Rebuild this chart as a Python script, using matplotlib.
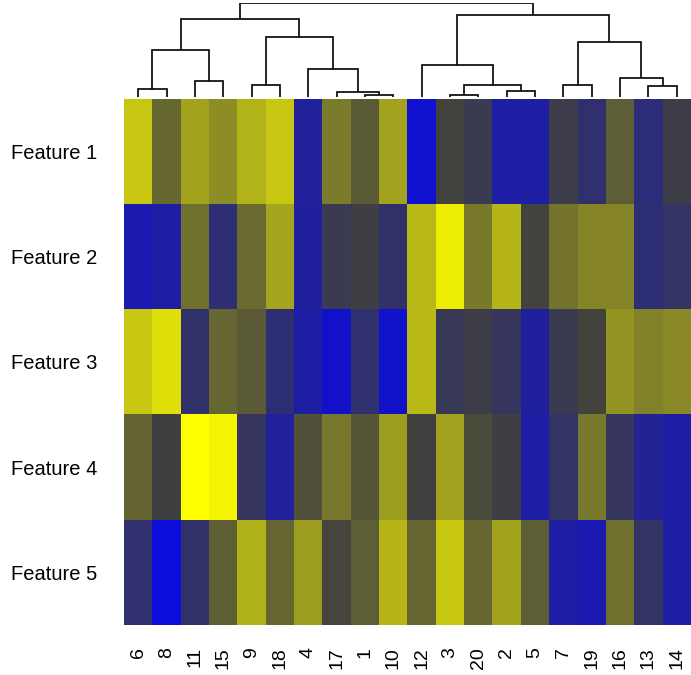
import numpy as np
import matplotlib
matplotlib.use("Agg")
import matplotlib.pyplot as plt
from matplotlib.colors import LinearSegmentedColormap

# ---- data ----
col_labels = ["6", "8", "11", "15", "9", "18", "4", "17", "1", "10",
              "12", "3", "20", "2", "5", "7", "19", "16", "13", "14"]
row_labels = ["Feature 1", "Feature 2", "Feature 3", "Feature 4", "Feature 5"]

feature1 = [0.70, 0.21, 0.52, 0.40, 0.60, 0.70, -0.47, 0.31, 0.14, 0.51,
            -0.75, 0.01, -0.09, -0.53, -0.53, -0.06, -0.25, 0.15, -0.31, -0.04]
feature2 = [-0.59, -0.53, 0.25, -0.28, 0.22, 0.53, -0.50, -0.09, -0.02, -0.22,
            0.63, 0.91, 0.30, 0.61, 0.02, 0.27, 0.36, 0.36, -0.28, -0.19]
feature3 = [0.71, 0.83, -0.22, 0.20, 0.14, -0.28, -0.53, -0.72, -0.25, -0.72,
            0.63, -0.12, -0.04, -0.16, -0.50, -0.09, 0.02, 0.44, 0.34, 0.38]
feature4 = [0.19, -0.01, 1.00, 0.94, -0.16, -0.47, 0.09, 0.29, 0.11, 0.49,
            0.00, 0.51, 0.06, -0.03, -0.53, -0.19, 0.29, -0.16, -0.44, -0.53]
feature5 = [-0.25, -0.81, -0.22, 0.15, 0.59, 0.20, 0.48, 0.03, 0.15, 0.61,
            0.20, 0.71, 0.21, 0.52, 0.15, -0.53, -0.59, 0.25, -0.19, -0.53]

# dendrogram merges (display-order leaf indices 0..19, new clusters 20+)
merge_a = [8, 7, 6, 4, 23, 0, 2, 25, 27, 11, 13, 29, 10, 15, 18, 17, 33, 32, 28]
merge_b = [9, 20, 21, 5, 22, 1, 3, 26, 24, 12, 14, 30, 31, 16, 19, 34, 35, 36, 37]
merge_h = [2.0, 5.0, 28.0, 12.0, 60.0, 8.0, 16.0, 47.0, 78.0, 2.3, 5.7, 12.0,
           32.0, 12.0, 10.7, 19.0, 55.0, 82.0, 93.7]

data = np.array([feature1, feature2, feature3, feature4, feature5])

# ---- figure ----
W, H = 691, 675
fig = plt.figure(figsize=(W / 100, H / 100), dpi=100)
plt.rcParams['font.family'] = ['Liberation Sans', 'DejaVu Sans']

left, right = 124 / W, 691 / W
hm_top, hm_bot = 99 / H, 625 / H
ax = fig.add_axes([left, 1 - hm_bot, right - left, hm_bot - hm_top])

cmap = LinearSegmentedColormap.from_list("by", ["#0000FF", "#404040", "#FFFF00"])
ax.imshow(data, aspect='auto', cmap=cmap, vmin=-1, vmax=1, interpolation='nearest')
for s in ax.spines.values():
    s.set_visible(False)
ax.set_yticks(range(len(row_labels)))
ax.set_yticklabels(row_labels, fontsize=14.5)
ax.set_xticks(range(len(col_labels)))
ax.set_xticklabels(col_labels, rotation=90, fontsize=14, va='top', ha='center')
ax.tick_params(axis='y', length=0, pad=19)
ax.tick_params(axis='x', length=0, pad=16)

# ---- dendrogram ----
d_top, d_bot = 3 / H, 97 / H
axd = fig.add_axes([left, 1 - d_bot, right - left, d_bot - d_top])
n = len(col_labels)
pos = {i: float(i) for i in range(n)}
hgt = {i: 0.0 for i in range(n)}
for k, (a, b, h) in enumerate(zip(merge_a, merge_b, merge_h)):
    xa, xb = pos[a], pos[b]
    axd.plot([xa, xa, xb, xb], [hgt[a], h, h, hgt[b]], color='black', lw=1.2,
             solid_capstyle='butt', solid_joinstyle='miter')
    pos[n + k] = (xa + xb) / 2
    hgt[n + k] = h
axd.set_xlim(-0.5, n - 0.5)
axd.set_ylim(0, max(merge_h))
axd.axis('off')

fig.savefig("out.png", dpi=100)
